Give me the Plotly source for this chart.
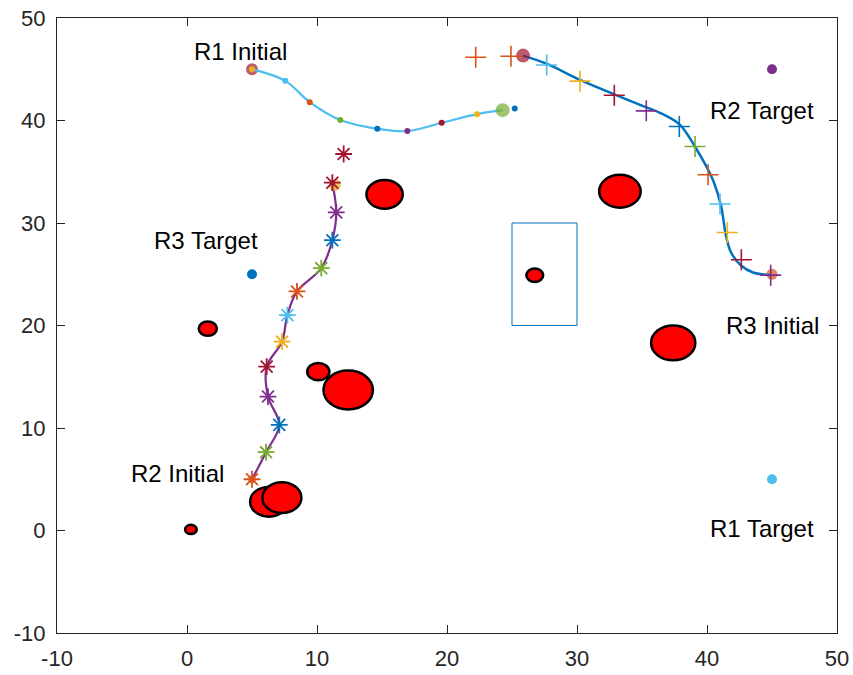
import plotly.graph_objects as go

# MATLAB default colour order
BLUE, ORANGE, YELLOW, PURPLE, GREEN, LBLUE, DRED = (
    "#0072BD", "#D95319", "#EDB120", "#7E2F8E", "#77AC30", "#4DBEEE", "#A2142F")

# ---------------- data ----------------
tick_vals = [-10, 0, 10, 20, 30, 40, 50]
tick_text = ["-10", "0", "10", "20", "30", "40", "50"]

# Obstacles: centre x, centre y, radius
obs_x = [15.2, 33.3, 37.4, 12.4, 10.1, 1.6, 6.3, 7.3, 0.3, 26.75]
obs_y = [32.8, 33.1, 18.3, 13.7, 15.5, 19.7, 2.8, 3.2, 0.1, 24.9]
obs_r = [1.4, 1.6, 1.7, 1.9, 0.85, 0.7, 1.45, 1.5, 0.45, 0.65]

# Rectangle region
rect_x = [25, 30]
rect_y = [20, 30]

# Robot 1 (dots, light-blue path)
r1_x = [5.0, 7.56, 9.44, 11.79, 14.64, 16.95, 19.59, 22.31, 24.28]
r1_y = [45.0, 43.87, 41.79, 40.04, 39.19, 38.97, 39.78, 40.62, 41.01]
r1_dot_x = [5.0, 7.56, 9.44, 11.79, 14.64, 16.95, 19.59, 22.31, 25.21]
r1_dot_y = [45.0, 43.87, 41.79, 40.04, 39.19, 38.97, 39.78, 40.62, 41.17]
r1_dot_c = [YELLOW, LBLUE, ORANGE, GREEN, BLUE, PURPLE, DRED, YELLOW, BLUE]

# Robot 2 (asterisks, purple path)
r2_x = [5.0, 6.08, 7.1, 6.23, 6.13, 7.31, 7.72, 8.46, 10.33, 11.18, 11.48, 11.18]
r2_y = [5.0, 7.64, 10.3, 13.07, 15.99, 18.42, 21.01, 23.32, 25.59, 28.32, 31.04, 33.93]
r2_mk_x = r2_x + [12.05]
r2_mk_y = r2_y + [36.73]
r2_mk_c = [ORANGE, GREEN, BLUE, PURPLE, DRED, YELLOW, LBLUE, ORANGE, GREEN,
           BLUE, PURPLE, DRED, DRED]

# Robot 3 (plus markers, blue path)
r3_path_x = [44.9, 43.54, 42.62, 41.85, 41.46, 41.08, 40.54, 39.92, 39.08, 37.92,
             36.38, 34.85, 32.77, 30.23, 27.69, 25.85]
r3_path_y = [24.91, 25.17, 25.85, 27.12, 28.77, 31.69, 33.93, 35.59, 37.44, 39.58,
             40.75, 41.53, 42.6, 43.96, 45.52, 46.33]
r3_mk_x = [44.9, 42.64, 41.56, 41.0, 40.08, 39.08, 37.87, 35.33, 32.87, 30.23, 27.67, 24.92, 22.21]
r3_mk_y = [24.91, 26.41, 29.07, 31.86, 34.71, 37.47, 39.42, 40.94, 42.47, 43.84, 45.42, 46.27, 46.17]
r3_mk_c = [PURPLE, DRED, YELLOW, LBLUE, ORANGE, GREEN, BLUE, PURPLE, DRED, YELLOW,
           LBLUE, ORANGE, ORANGE]

# Start / end circles
start_x = [5.0, 5.0, 45.0]
start_y = [45.0, 5.0, 25.0]
start_c = [DRED, ORANGE, ORANGE]
start_s = [12, 8, 11]
end_x = [24.28, 11.38, 25.85]
end_y = [41.01, 33.71, 46.33]
end_c = [GREEN, YELLOW, DRED]
end_s = [14, 12, 14]

# Targets
tgt_x = [45, 45, 5]
tgt_y = [5, 45, 25]
tgt_c = [LBLUE, PURPLE, BLUE]

# Labels
lab_text = ["R1 Initial", "R2 Target", "R3 Target", "R3 Initial", "R2 Initial", "R1 Target"]
lab_x = [0.35, 40.1, -2.7, 41.3, -4.5, 40.1]
lab_y = [46.7, 41.0, 28.3, 20.0, 5.6, 0.15]

# ---------------- figure ----------------
fig = go.Figure()

shapes = []
for cx, cy, r in zip(obs_x, obs_y, obs_r):
    shapes.append(dict(type="circle", xref="x", yref="y",
                       x0=cx - r, x1=cx + r, y0=cy - r, y1=cy + r,
                       fillcolor="#FF0000", line=dict(color="black", width=2.5),
                       layer="above"))
shapes.append(dict(type="rect", xref="x", yref="y", x0=rect_x[0], x1=rect_x[1],
                   y0=rect_y[0], y1=rect_y[1], line=dict(color=BLUE, width=1),
                   fillcolor="rgba(0,0,0,0)", layer="above"))

fig.add_trace(go.Scatter(x=start_x, y=start_y, mode="markers",
                         marker=dict(color=start_c, size=start_s, line=dict(width=0)),
                         hoverinfo="skip"))

fig.add_trace(go.Scatter(x=r1_x, y=r1_y, mode="lines",
                         line=dict(color=LBLUE, width=2.2, shape="spline", smoothing=1)))
fig.add_trace(go.Scatter(x=r2_x, y=r2_y, mode="lines",
                         line=dict(color=PURPLE, width=2.2, shape="spline", smoothing=1)))
fig.add_trace(go.Scatter(x=r3_path_x, y=r3_path_y, mode="lines",
                         line=dict(color=BLUE, width=2.5, shape="spline", smoothing=1)))

fig.add_trace(go.Scatter(x=end_x, y=end_y, mode="markers",
                         marker=dict(color=end_c, size=end_s, line=dict(width=0))))

fig.add_trace(go.Scatter(x=r1_dot_x, y=r1_dot_y, mode="markers",
                         marker=dict(color=r1_dot_c, size=6, line=dict(width=0))))
fig.add_trace(go.Scatter(x=r2_mk_x, y=r2_mk_y, mode="markers",
                         marker=dict(symbol="asterisk-open", color=r2_mk_c, size=14,
                                     line=dict(color=r2_mk_c, width=1.8))))
fig.add_trace(go.Scatter(x=r3_mk_x, y=r3_mk_y, mode="markers",
                         marker=dict(symbol="cross-thin-open", color=r3_mk_c, size=15,
                                     line=dict(color=r3_mk_c, width=1.6))))

fig.add_trace(go.Scatter(x=tgt_x, y=tgt_y, mode="markers",
                         marker=dict(color=tgt_c, size=10, line=dict(width=0))))

annotations = [dict(x=x, y=y, text=t, xref="x", yref="y", showarrow=False,
                    xanchor="left", yanchor="middle",
                    font=dict(family="Liberation Sans, Arial, sans-serif", size=24, color="black"))
               for t, x, y in zip(lab_text, lab_x, lab_y)]

axis_common = dict(tickmode="array", tickvals=tick_vals, ticktext=tick_text,
                   ticks="inside", ticklen=8, tickwidth=1, tickcolor="#262626",
                   showline=True, linecolor="#262626", linewidth=1, mirror="ticks",
                   showgrid=False, zeroline=False, automargin=False,
                   tickfont=dict(family="Liberation Sans, Arial, sans-serif", size=22, color="#262626"))

fig.update_layout(
    width=853, height=675,
    autosize=False,
    margin=dict(l=57, r=16, t=18, b=42, pad=0),
    paper_bgcolor="white", plot_bgcolor="white",
    showlegend=False,
    shapes=shapes, annotations=annotations,
    xaxis=dict(range=[-10, 50], ticklabelstandoff=6, **axis_common),
    yaxis=dict(range=[-10, 50], ticklabelstandoff=6, **axis_common),
)

fig.write_html("out.html")
